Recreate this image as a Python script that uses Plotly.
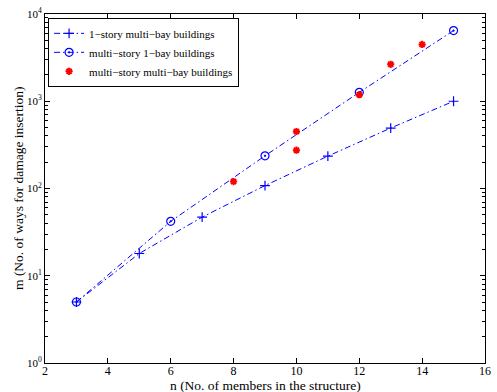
import plotly.graph_objects as go

# Data
n_one_story = [3, 5, 7, 9, 11, 13, 15]
m_one_story = [5, 18, 47, 108, 235, 493, 1000]

n_one_bay = [3, 6, 9, 12, 15]
m_one_bay = [5, 42, 237, 1265, 6460]

n_multi = [8, 10, 10, 12, 13, 14]
m_multi = [120, 450, 275, 1190, 2650, 4480]

names = ["1\u2212story multi\u2212bay buildings",
         "multi\u2212story 1\u2212bay buildings",
         "multi\u2212story multi\u2212bay buildings"]

ytick_vals = [1, 10, 100, 1000, 10000]
ytick_text = ["10<sup>0</sup>", "10<sup>1</sup>", "10<sup>2</sup>", "10<sup>3</sup>", "10<sup>4</sup>"]

FONT = "Liberation Serif, Times New Roman, serif"
BLUE = "#0000ff"
DASH = "6px,3px,1.5px,3px"

fig = go.Figure()
fig.add_trace(go.Scatter(
    x=n_one_story, y=m_one_story, name=names[0], mode="lines+markers",
    line=dict(color=BLUE, width=1, dash=DASH),
    marker=dict(symbol="cross-thin-open", size=7, color=BLUE, line=dict(color=BLUE, width=1.2)),
))
fig.add_trace(go.Scatter(
    x=n_one_bay, y=m_one_bay, name=names[1], mode="lines+markers",
    line=dict(color=BLUE, width=1, dash=DASH),
    marker=dict(symbol="circle-open-dot", size=8, color=BLUE, line=dict(color=BLUE, width=1.2)),
))
fig.add_trace(go.Scatter(
    x=n_multi, y=m_multi, name=names[2], mode="markers",
    marker=dict(symbol="asterisk-open", size=6, color="red", line=dict(color="red", width=2)),
))

fig.update_layout(
    width=497, height=392,
    margin=dict(l=45, r=6, t=11, b=29),
    paper_bgcolor="white", plot_bgcolor="white",
    font=dict(family=FONT, size=12, color="black"),
    showlegend=True,
    legend=dict(
        x=0.007, y=0.989, xanchor="left", yanchor="top",
        bgcolor="white", bordercolor="black", borderwidth=1,
        font=dict(family=FONT, size=11), itemwidth=30,
        tracegroupgap=0,
    ),
)
fig.update_xaxes(
    range=[2, 16], dtick=2, tick0=2,
    showline=True, linecolor="black", linewidth=1, mirror="ticks",
    ticks="inside", ticklen=5, tickcolor="black",
    showgrid=False, zeroline=False,
    tickfont=dict(family=FONT, size=12),
    ticklabelstandoff=-3,
)
fig.update_yaxes(
    type="log", range=[0, 4],
    tickvals=ytick_vals, ticktext=ytick_text,
    showline=True, linecolor="black", linewidth=1, mirror="allticks",
    ticks="inside", ticklen=5, tickcolor="black",
    minor=dict(ticks="inside", ticklen=3, tickcolor="black", dtick="D1", showgrid=False),
    showgrid=False, zeroline=False,
    tickfont=dict(family=FONT, size=11),
)
fig.add_annotation(
    text="n (No. of members in the structure)", xref="paper", yref="paper",
    x=0.5, y=0, yshift=-13, yanchor="top", showarrow=False,
    font=dict(family=FONT, size=13.5),
)
fig.add_annotation(
    text="m (No. of ways for damage insertion)", xref="paper", yref="paper",
    x=0, xshift=-17, y=0.5, xanchor="right", textangle=-90, showarrow=False,
    font=dict(family=FONT, size=13.5),
)
fig.write_html("out.html")
